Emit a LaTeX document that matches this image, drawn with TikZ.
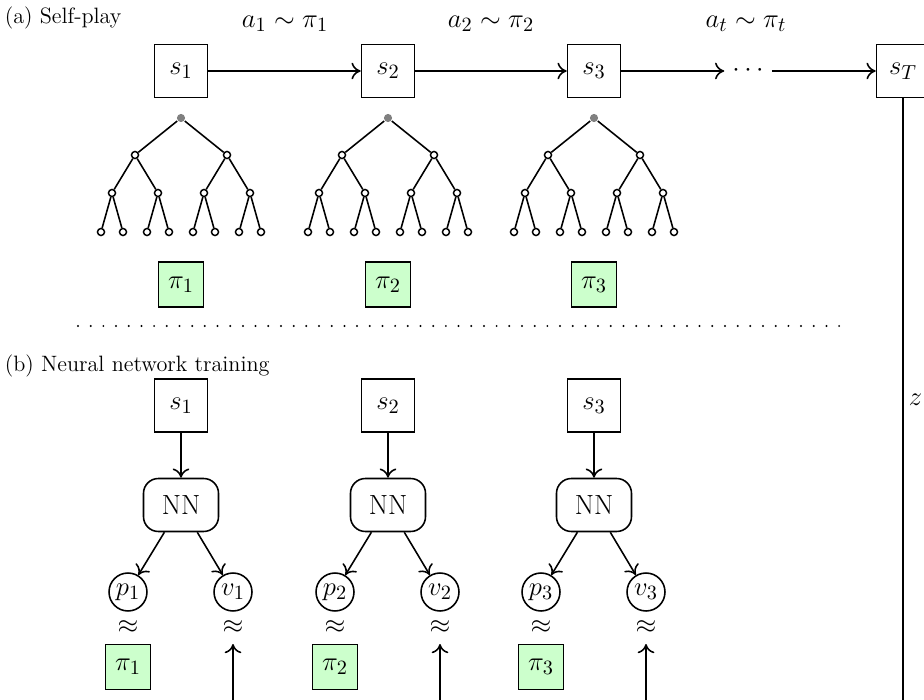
\documentclass[tikz,border=0pt]{standalone}
\usetikzlibrary{arrows.meta}
\newcommand\bigf{\fontsize{15}{18}\selectfont}
\newcommand\secf{\fontsize{12}{14}\selectfont}
\begin{document}
\begin{tikzpicture}[x=0.54pt,y=-0.54pt,
  line width=0.85pt,
  >={Computer Modern Rightarrow[length=5pt,width=9pt]},
  sbox/.style={draw,minimum size=28.6pt,inner sep=0pt,font=\bigf},
  gbox/.style={draw,fill=green!20,minimum size=24.3pt,inner sep=0pt,font=\bigf},
  nnbox/.style={draw,rounded corners=8pt,minimum width=40.5pt,minimum height=28.6pt,inner sep=0pt,font=\bigf},
  pv/.style={draw,circle,minimum size=20.5pt,inner sep=0.3pt,font=\bigf},
  lbl/.style={font=\bigf,inner sep=0pt},
  sec/.style={font=\secf,inner sep=0pt,anchor=base west},
  treedot/.style={draw,circle,fill=white,minimum size=3.8pt,inner sep=0pt,line width=0.8pt},
  rootdot/.style={circle,fill=black!50,minimum size=4.4pt,inner sep=0pt},
  dotline/.style={line width=1.2pt,line cap=round,dash pattern=on 0pt off 6.85pt}
]
\useasboundingbox (0,0) rectangle (924,700);
\clip (0,0) rectangle (924,700);

% (a) Self-play
\node[sec] (la) at (4,24) {(a) Self-play};
\node[sbox] (s1) at (181,71) {$s_1$};
\node[sbox] (s2) at (388,71) {$s_2$};
\node[sbox] (s3) at (594,71) {$s_3$};
\node[lbl,inner sep=4pt] (dots) at (748,71) {$\cdots$};
\node[sbox] (sT) at (903,71) {$s_T$};
\draw[->] (s1) -- (s2);
\draw[->] (s2) -- (s3);
\draw[->] (s3) -- (dots);
\draw[->] (dots) -- (sT);
\node[lbl] (a1) at (285,24) {$a_1 \sim \pi_1$};
\node[lbl] (a2) at (491,24) {$a_2 \sim \pi_2$};
\node[lbl] (at) at (746,24) {$a_t \sim \pi_t$};

% search trees
\foreach \c [count=\i] in {181,388,594} {
  \node[rootdot] (t\i) at (\c,118) {};
  \foreach \a/\na in {-46/a,46/b} {
    \node[treedot] (t\i\na) at (\c+\a,155) {};
    \draw (t\i) -- (t\i\na);
    \foreach \b/\nb in {-23/a,23/b} {
      \node[treedot] (t\i\na\nb) at (\c+\a+\b,193) {};
      \draw (t\i\na) -- (t\i\na\nb);
      \foreach \d/\nd in {-11/a,11/b} {
        \node[treedot] (t\i\na\nb\nd) at (\c+\a+\b+\d,232) {};
        \draw (t\i\na\nb) -- (t\i\na\nb\nd);
      }
    }
  }
}

\node[gbox] (g1) at (181,284.5) {$\pi_1$};
\node[gbox] (g2) at (388,284.5) {$\pi_2$};
\node[gbox] (g3) at (594,284.5) {$\pi_3$};

% separator
\coordinate (dl) at (78,326);
\coordinate (dr) at (850,326);
\draw[dotline] (dl) -- (dr);

% (b) Neural network training
\node[sec] (lb) at (4,372) {(b) Neural network training};
\foreach \c [count=\i] in {181,388,594} {
  \node[sbox] (b\i) at (\c,405.5) {$s_\i$};
  \node[nnbox] (nn\i) at (\c,505) {NN};
  \node[pv] (p\i) at (\c-53,592) {$p_\i$};
  \node[pv] (v\i) at (\c+52,592) {$v_\i$};
  \node[lbl] (ap\i) at (\c-53,627) {$\approx$};
  \node[lbl] (av\i) at (\c+52,627) {$\approx$};
  \node[gbox] (q\i) at (\c-53,667) {$\pi_\i$};
  \coordinate (z\i) at (\c+52,715);
  \coordinate (zt\i) at (\c+52,644);
  \draw[->] (b\i) -- (nn\i);
  \draw[->] (nn\i) -- (p\i);
  \draw[->] (nn\i) -- (v\i);
  \draw[->] (z\i) -- (zt\i);
}

% outcome z
\coordinate (zb) at (903,715);
\draw (sT) -- (zb);
\node[lbl,anchor=west] (zl) at (908,400) {$z$};
\end{tikzpicture}
\end{document}
